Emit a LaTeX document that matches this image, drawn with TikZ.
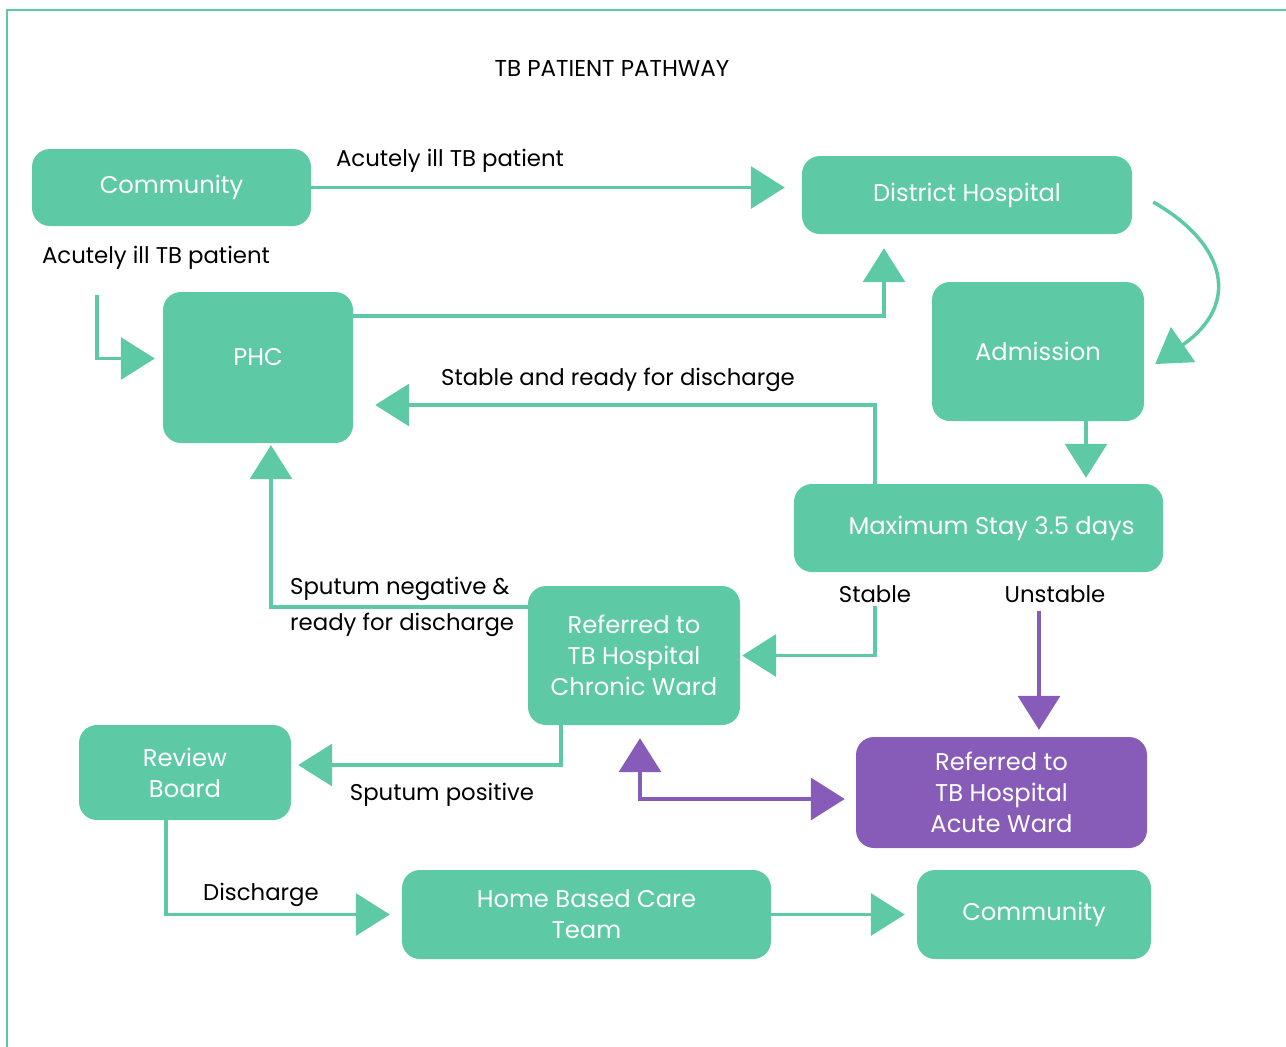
\documentclass[tikz,border=0pt]{standalone}
\usepackage{fontspec}
\setmainfont{Poppins}
\usetikzlibrary{arrows.meta}

\definecolor{tbgreen}{RGB}{93,202,165}
\definecolor{tbpurple}{RGB}{135,92,185}

\tikzset{
  box/.style={fill=tbgreen, rounded corners=18pt, text=white, align=center,
    inner sep=0pt, font=\fontsize{24.2}{31}\selectfont},
  lbl/.style={text=black, inner sep=0pt, font=\fontsize{22.8}{36}\selectfont},
  arr/.style={draw=tbgreen, line width=3.5pt, -{Triangle[length=34pt,width=42pt]}},
  parr/.style={draw=tbpurple, line width=3.5pt, -{Triangle[length=34pt,width=42pt]}}
}

\begin{document}
\begin{tikzpicture}[x=1pt,y=-1pt]
\useasboundingbox (0,0) rectangle (1286,1047);
% frame
\draw[tbgreen, line width=1.3pt] (7,1047) -- (7,10) -- (1286,10);
\node[lbl, font=\fontsize{23}{27}\selectfont] (title) at (612,68) {TB PATIENT PATHWAY};

% boxes
\node[box, minimum width=279pt, minimum height=77pt] (comm) at (171.5,187.5) {Community};
\node[box, minimum width=330pt, minimum height=78pt] (dist) at (967,195) {District Hospital};
\node[box, minimum width=190pt, minimum height=151pt] (phc) at (258,367.5) {\raisebox{21pt}{PHC}};
\node[box, minimum width=212pt, minimum height=139pt] (adm) at (1038,351.5) {Admission};
\node[box, minimum width=369pt, minimum height=88pt] (maxstay) at (978.5,528) {\hspace*{26pt}Maximum Stay 3.5 days};
\node[box, minimum width=212pt, minimum height=139pt] (chronic) at (634,655.5) {Referred to\\TB Hospital\\Chronic Ward};
\node[box, minimum width=212pt, minimum height=95pt] (review) at (185,772.5) {Review\\Board};
\node[box, fill=tbpurple, minimum width=291pt, minimum height=111pt] (acute) at (1001.5,792.5) {Referred to\\TB Hospital\\Acute Ward};
\node[box, minimum width=369pt, minimum height=89pt] (home) at (586.5,914.5) {Home Based Care\\Team};
\node[box, minimum width=234pt, minimum height=89pt] (comm2) at (1034,914.5) {Community};

% labels
\node[lbl] (lblill) at (450,161) {Acutely ill TB patient};
\node[lbl] (lblill2) at (156,258) {Acutely ill TB patient};
\node[lbl] (lblready) at (618,380) {Stable and ready for discharge};
\node[lbl] (lblstable) at (875,594) {Stable};
\node[lbl] (lblunstable) at (1055,594) {Unstable};
\node[lbl, align=left, anchor=west] (lblneg) at (290,607) {Sputum negative \&\\ready for discharge};
\node[lbl] (lblpos) at (442,795) {Sputum positive};
\node[lbl] (lbldis) at (261,895) {Discharge};
\coordinate (phcin) at (97,295);

% connectors
\draw[arr, shorten >=17pt] (comm.east) -- (dist.west |- comm.east);
\draw[arr, shorten >=8pt] (phcin) |- ([yshift=9pt]phc.west);
\draw[arr, shorten >=14pt] ([yshift=51.5pt]phc.east) -| ([xshift=-83pt]dist.south);
\draw[arr] ([xshift=21pt,yshift=-7pt]dist.east) .. controls (1228,245) and (1240,305) .. ([xshift=11pt,yshift=-12.5pt]adm.east);
\draw[arr, shorten >=22pt] ([xshift=-103.5pt]maxstay.north) |- ([yshift=-37.5pt]phc.east);
\draw[arr, shorten >=6pt] ([xshift=48pt]adm.south) -- ([xshift=48pt]adm.south |- maxstay.north);
\draw[arr, shorten >=2pt] ([yshift=-3pt]lblstable.south) |- (chronic.east);
\draw[parr, shorten >=7pt] ([xshift=-16pt,yshift=-8pt]lblunstable.south) -- ([xshift=37.5pt]acute.north);
\draw[arr, shorten >=2pt] ([yshift=48.5pt]chronic.west) -| ([xshift=13pt]phc.south);
\draw[arr, shorten >=7pt] ([xshift=-73pt]chronic.south) |- ([yshift=7.5pt]review.east);
\draw[parr, {Triangle[length=34pt,width=42pt]}-{Triangle[length=34pt,width=42pt]}, shorten <=13pt, shorten >=11pt] ([xshift=6pt]chronic.south) |- ([yshift=-6.5pt]acute.west);
\draw[arr, shorten >=12pt] ([xshift=-19pt]review.south) |- (home.west);
\draw[arr, shorten >=12pt] (home.east) -- (comm2.west);
\end{tikzpicture}
\end{document}
